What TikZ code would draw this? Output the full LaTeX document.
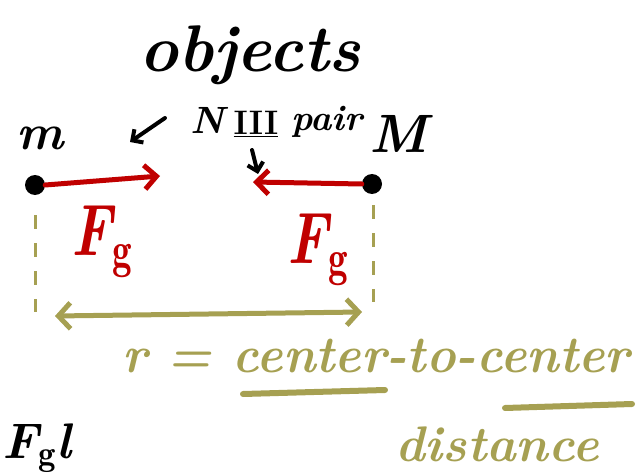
\documentclass[tikz,border=0pt]{standalone}
\usepackage{fontspec}
\usetikzlibrary{arrows.meta}
\definecolor{hred}{RGB}{192,0,0}
\definecolor{holive}{RGB}{166,160,82}
\tikzset{
  ink/.style={text=black, inner sep=0pt, font=\bfseries\itshape},
  dotnode/.style={circle, fill=black, minimum size=20pt, inner sep=0pt},
  redarr/.style={hred, line width=5pt, line cap=round, -{Straight Barb[length=12pt,width=24pt,line width=5pt]}},
  blkarr/.style={black, line width=4pt, line cap=round, -{Straight Barb[length=8pt,width=16pt,line width=4pt]}},
  olarr/.style={holive, line width=5pt, line cap=round, {Straight Barb[length=12pt,width=26pt,line width=5pt]}-{Straight Barb[length=12pt,width=26pt,line width=5pt]}},
  oldash/.style={holive, line width=3pt, dash pattern=on 14pt off 14pt},
  olline/.style={holive, line width=6pt, line cap=round},
}
\begin{document}
\begin{tikzpicture}[x=1pt,y=-1pt]
\useasboundingbox (0,0) rectangle (640,476);
% title
\node[ink, font=\fontsize{66}{66}\selectfont\bfseries\itshape] (obj) at (250,55) {objects};
\node[ink, font=\fontsize{38}{38}\selectfont\bfseries\itshape] (nthree) at (208,120) {N};
\node[ink, font=\fontsize{34}{34}\selectfont\bfseries] (roman) at (256,124) {\underline{III}};
\node[ink, font=\fontsize{36}{36}\selectfont\bfseries\itshape] (pair) at (327,122) {pair};
% masses
\node[ink, font=\fontsize{50}{50}\selectfont\bfseries\itshape] (mlab) at (40,138) {m};
\node[ink, font=\fontsize{54}{54}\selectfont\bfseries\itshape] (Mlab) at (398,134) {M};
\node[dotnode] (m) at (35,185) {};
\node[dotnode] (M) at (372,184) {};
% pointer arrows
\coordinate (p1s) at (165,118);
\coordinate (p1e) at (130,142);
\draw[blkarr] (p1s) -- (p1e);
\coordinate (p2s) at (252,150);
\coordinate (p2e) at (258,174);
\draw[blkarr] (p2s) -- (p2e);
% force arrows
\coordinate (fa) at (160,176);
\coordinate (fb) at (253,182);
\draw[redarr] (m.east) -- (fa);
\draw[redarr] (M.west) -- (fb);
\node[text=hred, inner sep=0pt, yscale=1.3, font=\fontsize{56}{56}\selectfont\bfseries\itshape] (Fg1) at (102,242) {F$_{\mathbf g}$};
\node[text=hred, inner sep=0pt, yscale=1.3, font=\fontsize{56}{56}\selectfont\bfseries\itshape] (Fg2) at (318,250) {F$_{\mathbf g}$};
% distance
\coordinate (d1a) at (35,215);
\coordinate (d1b) at (35,312);
\coordinate (d2a) at (373,205);
\coordinate (d2b) at (373,302);
\draw[oldash] (d1a) -- (d1b);
\draw[oldash] (d2a) -- (d2b);
\coordinate (ra) at (55,316);
\coordinate (rb) at (362,312);
\draw[olarr] (ra) -- (rb);
\node[text=holive, inner sep=0pt, xscale=0.96, font=\fontsize{52}{52}\selectfont\bfseries\itshape] (rtxt) at (376,356) {r = center-to-center};
\coordinate (u1a) at (243,394);
\coordinate (u1b) at (385,390);
\draw[olline] (u1a) -- (u1b);
\coordinate (u2a) at (505,408);
\coordinate (u2b) at (632,404);
\draw[olline] (u2a) -- (u2b);
\node[text=holive, inner sep=0pt, font=\fontsize{50}{50}\selectfont\bfseries\itshape] (dist) at (497,444) {distance};
\node[ink, font=\fontsize{50}{50}\selectfont\bfseries\itshape, anchor=west] (fgl) at (2,448) {F$_{\mathbf g}$l};
\end{tikzpicture}
\end{document}
